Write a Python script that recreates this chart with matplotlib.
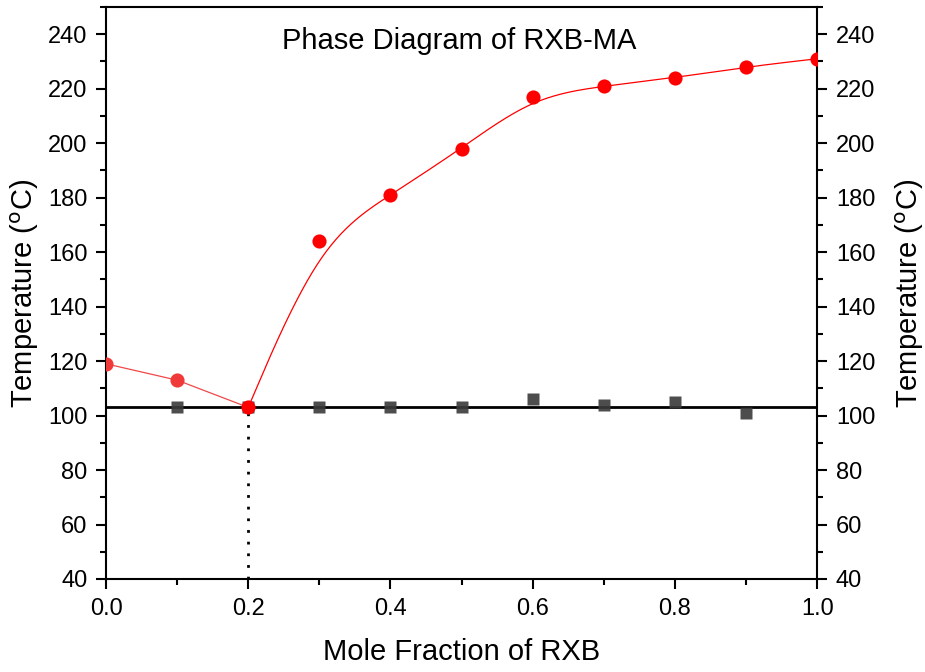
import numpy as np
import matplotlib.pyplot as plt
from matplotlib.ticker import MultipleLocator

plt.rcParams['font.family'] = ['Liberation Sans', 'DejaVu Sans']

# liquidus (red) and eutectic (gray) temperatures
x_liq = [0.0, 0.1, 0.2, 0.3, 0.4, 0.5, 0.6, 0.7, 0.8, 0.9, 1.0]
t_liq = [119, 113, 103, 164, 181, 198, 217, 221, 224, 228, 231]
x_eut = [0.1, 0.2, 0.3, 0.4, 0.5, 0.6, 0.7, 0.8, 0.9]
t_eut = [103, 103, 103, 103, 103, 106, 104, 105, 101]
eutectic_T = 103
eutectic_x = 0.2


def bspline(x, y, n=30):
    # uniform cubic B-spline using the points as control points,
    # end points repeated so the curve starts/ends on them
    P = np.column_stack([x, y]).astype(float)
    P = np.vstack([P[:1], P[:1], P, P[-1:], P[-1:]])
    s = np.linspace(0, 1, n)[:, None]
    b0 = (1 - s)**3 / 6
    b1 = (3 * s**3 - 6 * s**2 + 4) / 6
    b2 = (-3 * s**3 + 3 * s**2 + 3 * s + 1) / 6
    b3 = s**3 / 6
    segs = [b0 * P[i] + b1 * P[i + 1] + b2 * P[i + 2] + b3 * P[i + 3]
            for i in range(len(P) - 3)]
    c = np.vstack(segs)
    return c[:, 0], c[:, 1]


fig = plt.figure(figsize=(9.25, 6.72), dpi=100)
ax = fig.add_axes([0.1146, 0.1384, 0.7688, 0.8512])

# left branch (to eutectic) drawn straight and lighter
ax.plot(x_liq[:3], t_liq[:3], color='#f04848', lw=0.9, zorder=2)
xs, ys = bspline(x_liq[2:], t_liq[2:])
ax.plot(xs, ys, color='red', lw=0.9, zorder=2)

ax.axhline(eutectic_T, color='black', lw=2, zorder=3)
ax.plot([eutectic_x, eutectic_x], [40, eutectic_T], color='black', lw=2,
        linestyle=(0, (1, 3.2)), zorder=3)

ax.plot(x_eut, t_eut, 's', color='#3a3a3a', alpha=0.9, ms=9, mec='none', zorder=4)
ax.plot(x_liq[:2], t_liq[:2], 'o', color='#f03a3a', ms=10.2, mec='none', zorder=5)
ax.plot(x_liq[2:], t_liq[2:], 'o', color='red', ms=10.2, mec='none', zorder=5)

ax.set_xlim(0, 1)
ax.set_ylim(40, 250)
ax.xaxis.set_major_locator(MultipleLocator(0.2))
ax.xaxis.set_minor_locator(MultipleLocator(0.1))
ax.yaxis.set_minor_locator(MultipleLocator(10))
ax.set_yticks(np.arange(40, 241, 20))
ax.xaxis.set_major_formatter(plt.FormatStrFormatter('%.1f'))

ax.tick_params(which='both', direction='out', labelsize=17, width=1.5,
               left=True, right=True, labelright=True, top=False)
ax.tick_params(which='major', length=7.5, pad=6)
ax.tick_params(which='minor', length=4.5)
for sp in ax.spines.values():
    sp.set_linewidth(1.5)

ax.set_xlabel('Mole Fraction of RXB', fontsize=21, labelpad=13)
ax.set_ylabel('Temperature ($^\\mathrm{o}$C)', fontsize=21, labelpad=5)
ax2 = ax.secondary_yaxis('right')
ax2.set_yticks([])
ax2.spines['right'].set_visible(False)
ax2.set_ylabel('Temperature ($^\\mathrm{o}$C)', fontsize=21, labelpad=55)

ax.text(0.496, 0.94, 'Phase Diagram of RXB-MA', transform=ax.transAxes,
        ha='center', va='center', fontsize=21)

fig.savefig('out.png', dpi=100)
